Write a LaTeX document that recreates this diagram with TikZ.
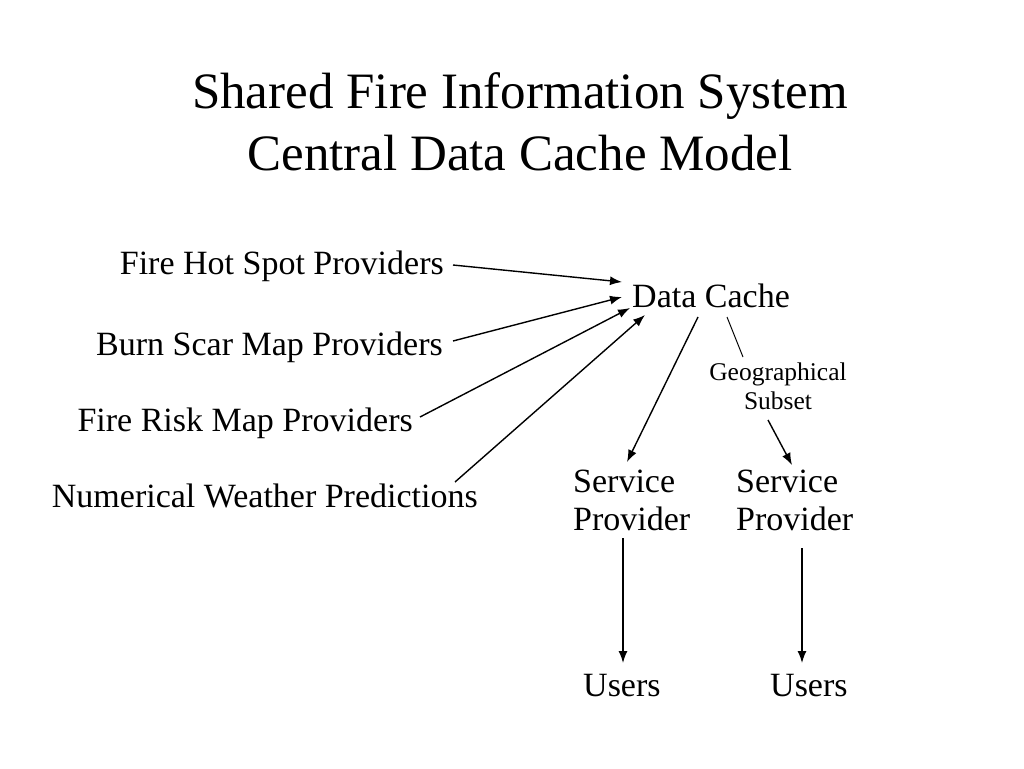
\documentclass[tikz,border=0pt]{standalone}
\usepackage{fontspec}
\setmainfont{Liberation Serif}
\usetikzlibrary{arrows.meta}
\begin{document}
\begin{tikzpicture}[x=1pt,y=-1pt,
  lbl/.style={inner sep=0pt,font=\fontsize{34}{38}\selectfont},
  small/.style={inner sep=0pt,font=\fontsize{25.5}{29}\selectfont,align=center},
  ttl/.style={inner sep=0pt,font=\fontsize{51}{62}\selectfont,align=center},
  arr/.style={line width=1.4pt,-{Latex[length=12pt,width=9pt]}},
  ln/.style={line width=1pt}]
\useasboundingbox[fill=white] (0,0) rectangle (1024,768);
\node[ttl,anchor=base] (title) at (520,170) {Shared Fire Information System\\Central Data Cache Model};
\node[lbl,anchor=base east] (fhs) at (444,274) {Fire Hot Spot Providers};
\node[lbl,anchor=base east] (bsm) at (443,355) {Burn Scar Map Providers};
\node[lbl,anchor=base east] (frm) at (413,431) {Fire Risk Map Providers};
\node[lbl,anchor=base east] (nwp) at (478,507) {Numerical Weather Predictions};
\node[lbl,anchor=base west] (dc) at (632,307) {Data Cache};
\node[small,anchor=base] (geo) at (778,409) {Geographical\\Subset};
\node[lbl,anchor=base west,align=left] (sp1) at (573,530) {Service\\Provider};
\node[lbl,anchor=base west,align=left] (sp2) at (736,530) {Service\\Provider};
\node[lbl,anchor=base west] (u1) at (583,696) {Users};
\node[lbl,anchor=base west] (u2) at (770,696) {Users};
\draw[arr] ([shift={(9,-9)}]fhs.base east) -- ([shift={(-10,-25)}]dc.base west);
\draw[arr] ([shift={(10,-14)}]bsm.base east) -- ([shift={(-10,-10)}]dc.base west);
\draw[arr] ([shift={(7,-14)}]frm.base east) -- ([shift={(-2,1)}]dc.base west);
\draw[arr] ([shift={(-23,-25)}]nwp.base east) -- ([shift={(13,8)}]dc.base west);
\draw[arr] ([shift={(66,10)}]dc.base west) -- ([shift={(54,-68)}]sp1.base west);
\draw[ln] ([shift={(95,10)}]dc.base west) -- ([shift={(-35,-52)}]geo.base);
\draw[arr] ([shift={(-10,11)}]geo.base) -- ([shift={(56,-65)}]sp2.base west);
\draw[arr] ([shift={(50,8)}]sp1.base west) -- ([shift={(40,-33)}]u1.base west);
\draw[arr] ([shift={(66,18)}]sp2.base west) -- ([shift={(32,-33)}]u2.base west);
\end{tikzpicture}
\end{document}
